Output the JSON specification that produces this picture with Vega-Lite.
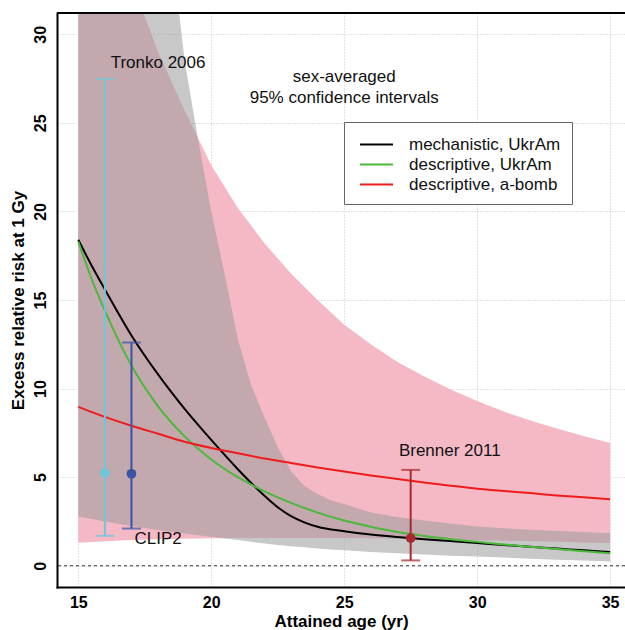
{
  "$schema": "https://vega.github.io/schema/vega-lite/v6.json",
  "autosize": {"type": "none"},
  "padding": {"left": 57, "top": 13, "right": 0, "bottom": 43},
  "width": 568,
  "height": 574,
  "background": "white",
  "config": {
    "view": {"stroke": null},
    "font": "Liberation Sans",
    "axis": {
      "domainColor": "black",
      "domainWidth": 2,
      "domainCap": "square",
      "ticks": false,
      "labelFont": "Liberation Sans",
      "labelFontWeight": "bold",
      "labelFontSize": 16,
      "labelColor": "black",
      "titleFont": "Liberation Sans",
      "titleFontSize": 17,
      "titleFontWeight": "bold",
      "titleColor": "black",
      "gridColor": "#c4c4c4",
      "gridDash": [1, 2],
      "gridWidth": 1,
      "zindex": 1
    }
  },
  "datasets": {
    "pink": [
      {"x": 15, "lo": 1.3, "hi": 44},
      {"x": 16, "lo": 1.38, "hi": 38},
      {"x": 17, "lo": 1.45, "hi": 33.0},
      {"x": 18, "lo": 1.5, "hi": 29.0},
      {"x": 19, "lo": 1.53, "hi": 25.7},
      {"x": 20, "lo": 1.55, "hi": 22.6},
      {"x": 21, "lo": 1.56, "hi": 20.2},
      {"x": 22, "lo": 1.57, "hi": 18.2},
      {"x": 23, "lo": 1.57, "hi": 16.5},
      {"x": 24, "lo": 1.57, "hi": 15.0},
      {"x": 25, "lo": 1.56, "hi": 13.6},
      {"x": 26, "lo": 1.55, "hi": 12.5},
      {"x": 27, "lo": 1.53, "hi": 11.5},
      {"x": 28, "lo": 1.5, "hi": 10.7},
      {"x": 29, "lo": 1.47, "hi": 9.95},
      {"x": 30, "lo": 1.44, "hi": 9.3},
      {"x": 31, "lo": 1.41, "hi": 8.7},
      {"x": 32, "lo": 1.38, "hi": 8.2},
      {"x": 33, "lo": 1.35, "hi": 7.75},
      {"x": 34, "lo": 1.31, "hi": 7.33},
      {"x": 35, "lo": 1.28, "hi": 6.93}
    ],
    "gray": [
      {"x": 15, "lo": 2.78, "hi": 120},
      {"x": 16, "lo": 2.5, "hi": 90},
      {"x": 17, "lo": 2.25, "hi": 60},
      {"x": 18, "lo": 2.02, "hi": 42},
      {"x": 18.5, "lo": 1.92, "hi": 35},
      {"x": 19, "lo": 1.82, "hi": 28.5},
      {"x": 19.5, "lo": 1.72, "hi": 24.1},
      {"x": 20, "lo": 1.63, "hi": 20.0},
      {"x": 20.5, "lo": 1.54, "hi": 16.5},
      {"x": 21, "lo": 1.45, "hi": 12.8},
      {"x": 21.5, "lo": 1.35, "hi": 10.2},
      {"x": 22, "lo": 1.25, "hi": 8.4},
      {"x": 22.5, "lo": 1.17, "hi": 6.7},
      {"x": 23, "lo": 1.1, "hi": 5.35},
      {"x": 23.5, "lo": 1.04, "hi": 4.5},
      {"x": 24, "lo": 0.98, "hi": 4.05},
      {"x": 24.5, "lo": 0.92, "hi": 3.7},
      {"x": 25, "lo": 0.87, "hi": 3.48},
      {"x": 26, "lo": 0.78, "hi": 3.0},
      {"x": 27, "lo": 0.7, "hi": 2.75},
      {"x": 28, "lo": 0.63, "hi": 2.55},
      {"x": 29, "lo": 0.57, "hi": 2.38},
      {"x": 30, "lo": 0.52, "hi": 2.22},
      {"x": 31, "lo": 0.46, "hi": 2.12},
      {"x": 32, "lo": 0.4, "hi": 2.03},
      {"x": 33, "lo": 0.34, "hi": 1.96},
      {"x": 34, "lo": 0.29, "hi": 1.9},
      {"x": 35, "lo": 0.24, "hi": 1.84}
    ],
    "curves": [
      {"model": "mechanistic, UkrAm", "x": 15, "y": 18.4},
      {"model": "mechanistic, UkrAm", "x": 15.5, "y": 16.95},
      {"model": "mechanistic, UkrAm", "x": 16, "y": 15.6},
      {"model": "mechanistic, UkrAm", "x": 17, "y": 13.0},
      {"model": "mechanistic, UkrAm", "x": 18, "y": 10.8},
      {"model": "mechanistic, UkrAm", "x": 19, "y": 8.85},
      {"model": "mechanistic, UkrAm", "x": 20, "y": 7.1},
      {"model": "mechanistic, UkrAm", "x": 21, "y": 5.45},
      {"model": "mechanistic, UkrAm", "x": 22, "y": 3.95},
      {"model": "mechanistic, UkrAm", "x": 22.5, "y": 3.3},
      {"model": "mechanistic, UkrAm", "x": 23, "y": 2.8},
      {"model": "mechanistic, UkrAm", "x": 23.5, "y": 2.45},
      {"model": "mechanistic, UkrAm", "x": 24, "y": 2.2},
      {"model": "mechanistic, UkrAm", "x": 25, "y": 1.95},
      {"model": "mechanistic, UkrAm", "x": 26, "y": 1.76},
      {"model": "mechanistic, UkrAm", "x": 27, "y": 1.62},
      {"model": "mechanistic, UkrAm", "x": 28, "y": 1.5},
      {"model": "mechanistic, UkrAm", "x": 29, "y": 1.39},
      {"model": "mechanistic, UkrAm", "x": 30, "y": 1.28},
      {"model": "mechanistic, UkrAm", "x": 31, "y": 1.17},
      {"model": "mechanistic, UkrAm", "x": 32, "y": 1.07},
      {"model": "mechanistic, UkrAm", "x": 33, "y": 0.97},
      {"model": "mechanistic, UkrAm", "x": 34, "y": 0.87},
      {"model": "mechanistic, UkrAm", "x": 35, "y": 0.77},
      {"model": "descriptive, UkrAm", "x": 15, "y": 18.3},
      {"model": "descriptive, UkrAm", "x": 15.5, "y": 16.2},
      {"model": "descriptive, UkrAm", "x": 16, "y": 14.4},
      {"model": "descriptive, UkrAm", "x": 17, "y": 11.3},
      {"model": "descriptive, UkrAm", "x": 18, "y": 9.0},
      {"model": "descriptive, UkrAm", "x": 19, "y": 7.3},
      {"model": "descriptive, UkrAm", "x": 20, "y": 6.0},
      {"model": "descriptive, UkrAm", "x": 21, "y": 5.0},
      {"model": "descriptive, UkrAm", "x": 22, "y": 4.2},
      {"model": "descriptive, UkrAm", "x": 23, "y": 3.55},
      {"model": "descriptive, UkrAm", "x": 24, "y": 3.0},
      {"model": "descriptive, UkrAm", "x": 25, "y": 2.55},
      {"model": "descriptive, UkrAm", "x": 26, "y": 2.2},
      {"model": "descriptive, UkrAm", "x": 27, "y": 1.9},
      {"model": "descriptive, UkrAm", "x": 28, "y": 1.68},
      {"model": "descriptive, UkrAm", "x": 29, "y": 1.5},
      {"model": "descriptive, UkrAm", "x": 30, "y": 1.35},
      {"model": "descriptive, UkrAm", "x": 31, "y": 1.2},
      {"model": "descriptive, UkrAm", "x": 32, "y": 1.07},
      {"model": "descriptive, UkrAm", "x": 33, "y": 0.94},
      {"model": "descriptive, UkrAm", "x": 34, "y": 0.82},
      {"model": "descriptive, UkrAm", "x": 35, "y": 0.7},
      {"model": "descriptive, a-bomb", "x": 15, "y": 8.97},
      {"model": "descriptive, a-bomb", "x": 16, "y": 8.4},
      {"model": "descriptive, a-bomb", "x": 17, "y": 7.9},
      {"model": "descriptive, a-bomb", "x": 18, "y": 7.45},
      {"model": "descriptive, a-bomb", "x": 19, "y": 7.0},
      {"model": "descriptive, a-bomb", "x": 20, "y": 6.65},
      {"model": "descriptive, a-bomb", "x": 21, "y": 6.35},
      {"model": "descriptive, a-bomb", "x": 22, "y": 6.05},
      {"model": "descriptive, a-bomb", "x": 23, "y": 5.8},
      {"model": "descriptive, a-bomb", "x": 24, "y": 5.55},
      {"model": "descriptive, a-bomb", "x": 25, "y": 5.32},
      {"model": "descriptive, a-bomb", "x": 26, "y": 5.1},
      {"model": "descriptive, a-bomb", "x": 27, "y": 4.9},
      {"model": "descriptive, a-bomb", "x": 28, "y": 4.7},
      {"model": "descriptive, a-bomb", "x": 29, "y": 4.52},
      {"model": "descriptive, a-bomb", "x": 30, "y": 4.35},
      {"model": "descriptive, a-bomb", "x": 31, "y": 4.22},
      {"model": "descriptive, a-bomb", "x": 32, "y": 4.1},
      {"model": "descriptive, a-bomb", "x": 33, "y": 3.97},
      {"model": "descriptive, a-bomb", "x": 34, "y": 3.86},
      {"model": "descriptive, a-bomb", "x": 35, "y": 3.76}
    ],
    "studies": [
      {"study": "Tronko 2006", "x": 16.0, "lo": 1.69, "est": 5.24, "hi": 27.48},
      {"study": "CLIP2", "x": 17.0, "lo": 2.1, "est": 5.19, "hi": 12.6},
      {"study": "Brenner 2011", "x": 27.5, "lo": 0.3, "est": 1.56, "hi": 5.41}
    ],
    "notes": [
      {"x": 18.0, "y": 28.4, "text": "Tronko 2006"},
      {"x": 25.0, "y": 27.6, "text": "sex-averaged"},
      {"x": 25.0, "y": 26.4, "text": "95% confidence intervals"},
      {"x": 28.97, "y": 6.5, "text": "Brenner 2011"},
      {"x": 18.0, "y": 1.5, "text": "CLIP2"}
    ]
  },
  "layer": [
    {
      "data": {"name": "pink"},
      "mark": {"type": "area", "color": "#f5b9c6", "clip": true},
      "encoding": {
        "x": {
          "field": "x", "type": "quantitative",
          "scale": {"domain": [14.2, 35.56], "nice": false, "zero": false},
          "axis": {"orient": "bottom", "title": "Attained age (yr)", "values": [15, 20, 25, 30, 35], "labelPadding": 7, "titlePadding": 3}
        },
        "y": {
          "field": "hi", "type": "quantitative",
          "scale": {"domain": [-1.2, 31.2], "nice": false, "zero": false},
          "axis": {"title": "Excess relative risk at 1 Gy", "values": [0, 5, 10, 15, 20, 25, 30], "labelAngle": -90, "labelAlign": "center", "labelBaseline": "alphabetic", "labelPadding": 12, "titlePadding": 5}
        },
        "y2": {"field": "lo"}
      }
    },
    {
      "data": {"name": "gray"},
      "mark": {"type": "area", "color": "#999999", "opacity": 0.54, "clip": true},
      "encoding": {
        "x": {"field": "x", "type": "quantitative"},
        "y": {"field": "hi", "type": "quantitative"},
        "y2": {"field": "lo"}
      }
    },
    {
      "data": {"values": [{"y": 0}]},
      "mark": {"type": "rule", "color": "#333333", "strokeDash": [3, 3], "strokeWidth": 1},
      "encoding": {"y": {"field": "y", "type": "quantitative"}}
    },
    {
      "data": {"values": [{"y": 31.2}]},
      "mark": {"type": "rule", "color": "black", "strokeWidth": 2},
      "encoding": {"y": {"field": "y", "type": "quantitative"}}
    },
    {
      "data": {"name": "curves"},
      "mark": {"type": "line", "strokeWidth": 2, "interpolate": "monotone", "clip": true},
      "encoding": {
        "x": {"field": "x", "type": "quantitative"},
        "y": {"field": "y", "type": "quantitative"},
        "color": {
          "field": "model", "type": "nominal",
          "scale": {"domain": ["mechanistic, UkrAm", "descriptive, UkrAm", "descriptive, a-bomb"], "range": ["#000000", "#4cb83c", "#ee1c1c"]},
          "legend": {
            "orient": "none", "legendX": 287, "legendY": 109, "title": null,
            "symbolType": "M-0.619,0H2.524", "symbolSize": 441, "symbolStrokeWidth": 2,
            "labelFont": "Liberation Sans", "labelFontSize": 17, "labelColor": "#111111",
            "labelOffset": 31, "padding": 11, "rowPadding": 0,
            "strokeColor": "#666666", "fillColor": "white"
          }
        }
      }
    },
    {
      "data": {"name": "studies"},
      "layer": [
        {
          "mark": {"type": "rule", "strokeWidth": 2},
          "encoding": {
            "x": {"field": "x", "type": "quantitative"},
            "y": {"field": "lo", "type": "quantitative"},
            "y2": {"field": "hi"},
            "color": {"field": "study", "type": "nominal", "scale": {"domain": ["Tronko 2006", "CLIP2", "Brenner 2011"], "range": ["#6cc7da", "#3a54a4", "#a8282d"]}, "legend": null}
          }
        },
        {
          "mark": {"type": "tick", "orient": "horizontal", "size": 19, "thickness": 2},
          "encoding": {
            "x": {"field": "x", "type": "quantitative"},
            "y": {"field": "lo", "type": "quantitative"},
            "color": {"field": "study", "type": "nominal", "scale": {"domain": ["Tronko 2006", "CLIP2", "Brenner 2011"], "range": ["#6cc7da", "#3a54a4", "#a8282d"]}, "legend": null}
          }
        },
        {
          "mark": {"type": "tick", "orient": "horizontal", "size": 19, "thickness": 2},
          "encoding": {
            "x": {"field": "x", "type": "quantitative"},
            "y": {"field": "hi", "type": "quantitative"},
            "color": {"field": "study", "type": "nominal", "scale": {"domain": ["Tronko 2006", "CLIP2", "Brenner 2011"], "range": ["#6cc7da", "#3a54a4", "#a8282d"]}, "legend": null}
          }
        },
        {
          "mark": {"type": "circle", "size": 95, "opacity": 1},
          "encoding": {
            "x": {"field": "x", "type": "quantitative"},
            "y": {"field": "est", "type": "quantitative"},
            "color": {"field": "study", "type": "nominal", "scale": {"domain": ["Tronko 2006", "CLIP2", "Brenner 2011"], "range": ["#6cc7da", "#3a54a4", "#a8282d"]}, "legend": null}
          }
        }
      ],
      "resolve": {"scale": {"color": "shared"}}
    },
    {
      "data": {"name": "notes"},
      "mark": {"type": "text", "font": "Liberation Sans", "fontSize": 17, "color": "#111111", "align": "center", "baseline": "middle"},
      "encoding": {
        "x": {"field": "x", "type": "quantitative"},
        "y": {"field": "y", "type": "quantitative"},
        "text": {"field": "text", "type": "nominal"}
      }
    }
  ],
  "resolve": {"scale": {"color": "independent"}}
}
